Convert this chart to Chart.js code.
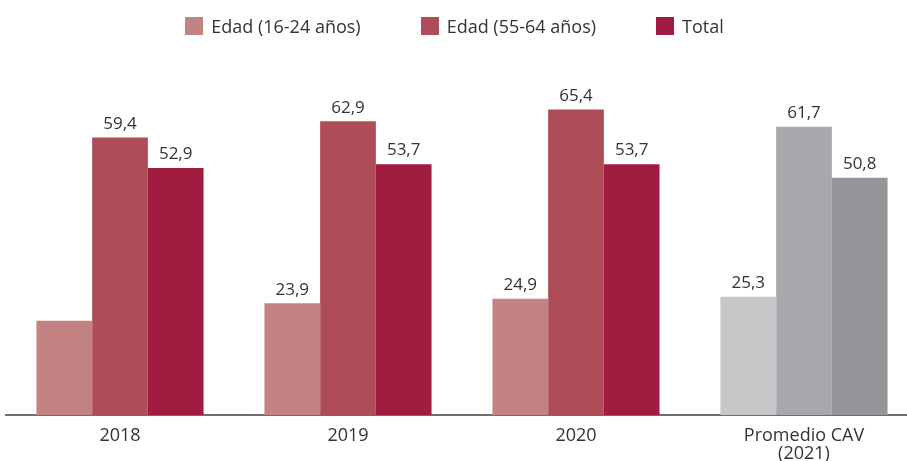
<!DOCTYPE html>
<html>
<head>
<meta charset="utf-8">
<script src="https://cdn.jsdelivr.net/npm/chart.js@4.4.1/dist/chart.umd.min.js"></script>
<style>
  html, body { margin: 0; padding: 0; background: #fff; overflow: hidden; }
  body { width: 907px; height: 461px; position: relative; font-family: "Open Sans", sans-serif; }
  #wrap { position: absolute; left: 0; top: 0; width: 920px; height: 461px; }
  #legend {
    position: absolute; left: 0; top: 17px; width: 909px;
    display: flex; justify-content: center; gap: 60px;
    font-size: 18px; color: #333; line-height: 18px; z-index: 2;
  }
  #legend .item { display: flex; align-items: center; }
  #legend .box { width: 18px; height: 18px; margin-right: 8px; }
</style>
</head>
<body>
<div id="legend"></div>
<div id="wrap"><canvas id="chart"></canvas></div>
<script>
const categories = ["2018", "2019", "2020", ["Promedio CAV", "(2021)"]];
const seriesNames = ["Edad (16-24 años)", "Edad (55-64 años)", "Total"];

const youngValues = [20.2, 23.9, 24.9, 25.3];
const olderValues = [59.4, 62.9, 65.4, 61.7];
const totalValues = [52.9, 53.7, 53.7, 50.8];

// the 2018 young-age bar carries no value label in the original
const youngLabelled = [false, true, true, true];
const olderLabelled = [true, true, true, true];
const totalLabelled = [true, true, true, true];

const redColors = ["#c48383", "#ae4c58", "#a01c40"];
const greyColors = ["#c6c7c9", "#a7a8ac", "#949599"];

// last category (CAV average) is drawn in grey
const colorsFor = (i) => categories.map((c, k) => (k === categories.length - 1 ? greyColors[i] : redColors[i]));

// html legend
const legendEl = document.getElementById("legend");
seriesNames.forEach((name, i) => {
  const item = document.createElement("div");
  item.className = "item";
  item.innerHTML = '<span class="box" style="background:' + redColors[i] + '"></span><span>' + name + "</span>";
  legendEl.appendChild(item);
});

const valueLabels = {
  id: "valueLabels",
  afterDatasetsDraw(chart) {
    const ctx = chart.ctx;
    ctx.save();
    ctx.font = '17px "Open Sans", sans-serif';
    ctx.fillStyle = "#333";
    ctx.textAlign = "center";
    ctx.textBaseline = "bottom";
    chart.data.datasets.forEach((ds, di) => {
      const meta = chart.getDatasetMeta(di);
      meta.data.forEach((bar, i) => {
        if (!ds.showLabel[i]) return;
        ctx.fillText(ds.data[i].toFixed(1).replace(".", ","), bar.x, bar.y - 5);
      });
    });
    ctx.restore();
  },
};

const ctx = document.getElementById("chart").getContext("2d");
new Chart(ctx, {
  type: "bar",
  data: {
    labels: categories,
    datasets: [
      { label: seriesNames[0], data: youngValues, backgroundColor: colorsFor(0), showLabel: youngLabelled },
      { label: seriesNames[1], data: olderValues, backgroundColor: colorsFor(1), showLabel: olderLabelled },
      { label: seriesNames[2], data: totalValues, backgroundColor: colorsFor(2), showLabel: totalLabelled },
    ],
  },
  options: {
    responsive: true,
    maintainAspectRatio: false,
    animation: false,
    layout: { padding: { top: 88, left: 6, right: 2, bottom: 0 } },
    datasets: {
      bar: { categoryPercentage: 0.733, barPercentage: 1, borderWidth: 0 },
    },
    plugins: {
      legend: { display: false },
      tooltip: { enabled: false },
    },
    scales: {
      x: {
        grid: { display: false, drawTicks: false },
        border: { display: true, color: "#6f6f6f", width: 2 },
        ticks: {
          color: "#333",
          padding: 12,
          font: { family: "Open Sans", size: 18, lineHeight: 1.0 },
        },
        afterFit(scale) {
          scale.height = 46;
        },
      },
      y: {
        display: false,
        min: 0,
        max: 70,
      },
    },
  },
  plugins: [valueLabels],
});
</script>
</body>
</html>
